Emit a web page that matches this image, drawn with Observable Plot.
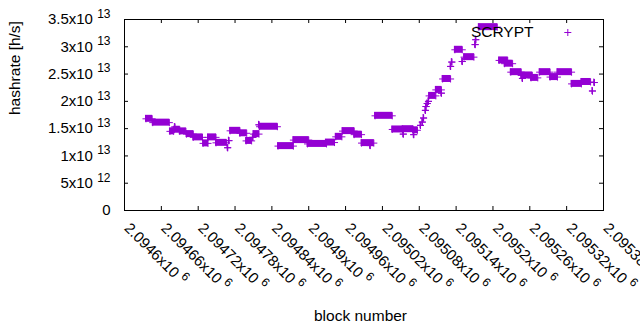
<!DOCTYPE html>
<html><head><meta charset="utf-8">
<script src="https://cdn.jsdelivr.net/npm/d3@7"></script>
<script src="https://cdn.jsdelivr.net/npm/@observablehq/plot@0.6"></script>
<style>
html,body{margin:0;padding:0;background:#fff;}
#chart svg{display:block;}
</style></head><body><div id="chart"></div>
<script>
// ---- data ----
const seriesName = "SCRYPT";
// runs of consecutive blocks sharing one hashrate value (single points have start = end)
const runStart = [2094635,2094646,2094674,2094681,2094682,2094690,2094701,2094712,2094728,2094736,2094749,2094768,2094770,2094772,2094788,2094798,2094809,2094810,2094819,2094820,2094850,2094875,2094898,2094928,2094944,2094955,2094974,2094986,2095000,2095008,2095036,2095054,2095053,2095070,2095071,2095082,2095085,2095087,2095090,2095091,2095093,2095095,2095096,2095107,2095116,2095118,2095131,2095133,2095138,2095150,2095153,2095171,2095172,2095177,2095210,2095219,2095229,2095246,2095248,2095262,2095276,2095293,2095305,2095328,2095344,2095362,2095365];
const runEnd   = [2094645,2094673,2094680,2094690,2094682,2094700,2094712,2094727,2094736,2094749,2094766,2094768,2094770,2094788,2094799,2094807,2094809,2094819,2094819,2094849,2094875,2094900,2094929,2094942,2094954,2094974,2094986,2095006,2095000,2095036,2095053,2095054,2095070,2095077,2095071,2095082,2095085,2095087,2095090,2095091,2095093,2095095,2095107,2095116,2095116,2095131,2095131,2095133,2095150,2095150,2095169,2095171,2095172,2095207,2095224,2095232,2095246,2095264,2095248,2095273,2095293,2095305,2095328,2095344,2095359,2095362,2095365];
// hashrate in units of 1e12 h/s
const runHashrate = [16.8,16.1,14.5,14.8,15.3,14.5,14.0,13.4,12.3,13.4,12.4,11.5,12.8,14.6,14.15,12.75,13.4,14.0,15.7,15.35,11.8,12.9,12.2,12.45,13.5,14.55,13.9,12.35,11.9,17.35,14.85,14.0,14.9,14.7,13.9,15.6,16.2,16.95,18.35,19.05,19.6,20.0,21.0,22.1,21.5,24.1,26.4,27.2,29.45,27.3,28.1,30.4,31.3,33.6,27.5,26.9,25.35,24.75,24.2,24.3,25.35,24.45,25.35,23.2,23.55,21.9,23.45];

const xTickValues = [2094600,2094660,2094720,2094780,2094840,2094900,2094960,2095020,2095080,2095140,2095200,2095260,2095320,2095380];
const xTickMantissa = ["2.0946","2.09466","2.09472","2.09478","2.09484","2.0949","2.09496","2.09502","2.09508","2.09514","2.0952","2.09526","2.09532","2.09538"];
const xTickExponent = ["6","6","6","6","6","6","6","6","6","6","6","6","6","6"];
const yTickValues = [0,5e12,1e13,1.5e13,2e13,2.5e13,3e13,3.5e13];
const yTickMantissa = ["0","5","1","1.5","2","2.5","3","3.5"];
const yTickExponent = ["","12","13","13","13","13","13","13"];
const xTitle = "block number";
const yTitle = "hashrate [h/s]";

// ---- build ----
const runs = runStart.map((s, i) => ({start: s, end: runEnd[i], h: runHashrate[i] * 1e12}));
const fmt = (m, e) => e ? `${m}x10 ^{${e}}` : m;
const xTicks = xTickValues.map((v, i) => ({v, label: fmt(xTickMantissa[i], xTickExponent[i])}));
const yTicks = yTickValues.map((v, i) => ({v, label: fmt(yTickMantissa[i], yTickExponent[i])}));
const xDomain = [xTickValues[0], xTickValues[xTickValues.length - 1]];
const yDomain = [yTickValues[0], yTickValues[yTickValues.length - 1]];
const color = "#9400d3";
const font = "'Liberation Sans', Arial, sans-serif";
const plusR = 2.4; // gives +/-3.5 px arms, like gnuplot's point type 1

const chart = Plot.plot({
  width: 640, height: 330,
  marginLeft: 124, marginRight: 37, marginTop: 19, marginBottom: 120,
  style: {fontFamily: font, fontSize: "15px", background: "white", color: "black", overflow: "visible"},
  x: {domain: xDomain, axis: null},
  y: {domain: yDomain, axis: null},
  marks: [
    Plot.rect(runs, {x1: "start", x2: "end", y1: "h", y2: "h", fill: color,
      insetTop: -3.5, insetBottom: -3.5, insetLeft: -0.5, insetRight: -0.5}),
    Plot.dot(runs, {x: "start", y: "h", symbol: "plus", r: plusR, stroke: color, strokeWidth: 1}),
    Plot.dot(runs, {x: "end", y: "h", symbol: "plus", r: plusR, stroke: color, strokeWidth: 1}),
    Plot.frame({stroke: "black", strokeWidth: 1}),
    Plot.ruleY(yTickValues, {y: d => d, x1: xDomain[0], x2: xDomain[0], insetRight: -4, stroke: "black"}),
    Plot.ruleY(yTickValues, {y: d => d, x1: xDomain[1], x2: xDomain[1], insetLeft: -4, stroke: "black"}),
    Plot.ruleX(xTickValues, {x: d => d, y1: yDomain[0], y2: yDomain[0], insetTop: -4, stroke: "black"}),
    Plot.ruleX(xTickValues, {x: d => d, y1: yDomain[1], y2: yDomain[1], insetBottom: -4, stroke: "black"}),
    Plot.text(yTicks, {x: xDomain[0], y: "v", text: "label", textAnchor: "end", lineAnchor: "middle", dx: -14, fontSize: 15, fill: "black"}),
    Plot.text(xTicks, {x: "v", y: yDomain[0], text: "label", textAnchor: "start", lineAnchor: "bottom", rotate: 45, dx: -1, dy: 18.5, fontSize: 15, fill: "black"}),
    Plot.text([yTitle], {frameAnchor: "left", text: d => d, rotate: -90, dx: -109, lineAnchor: "middle", fontSize: 15.5, fill: "black"}),
    Plot.text([xTitle], {frameAnchor: "bottom", text: d => d, dx: -3.5, dy: 110, lineAnchor: "bottom", fontSize: 15.5, fill: "black"}),
    Plot.text([seriesName], {frameAnchor: "top-right", text: d => d, textAnchor: "end", lineAnchor: "middle", dx: -70, dy: 12.5, fontSize: 15.5, fill: "black"}),
    Plot.dot([seriesName], {frameAnchor: "top-right", dx: -35.7, dy: 13, symbol: "plus", r: plusR, stroke: color, strokeWidth: 1})
  ]
});

// gnuplot-style superscripts: "x10 ^{13}" -> tspan
chart.querySelectorAll("text").forEach(t => {
  const m = t.textContent.match(/^(.*?)\^\{(.+)\}$/);
  if (m) {
    t.textContent = m[1];
    const ts = document.createElementNS("http://www.w3.org/2000/svg", "tspan");
    ts.setAttribute("dy", "-6.5");
    ts.setAttribute("font-size", "12");
    ts.textContent = m[2];
    t.appendChild(ts);
  }
});
document.getElementById("chart").appendChild(chart);
</script>
</body></html>
